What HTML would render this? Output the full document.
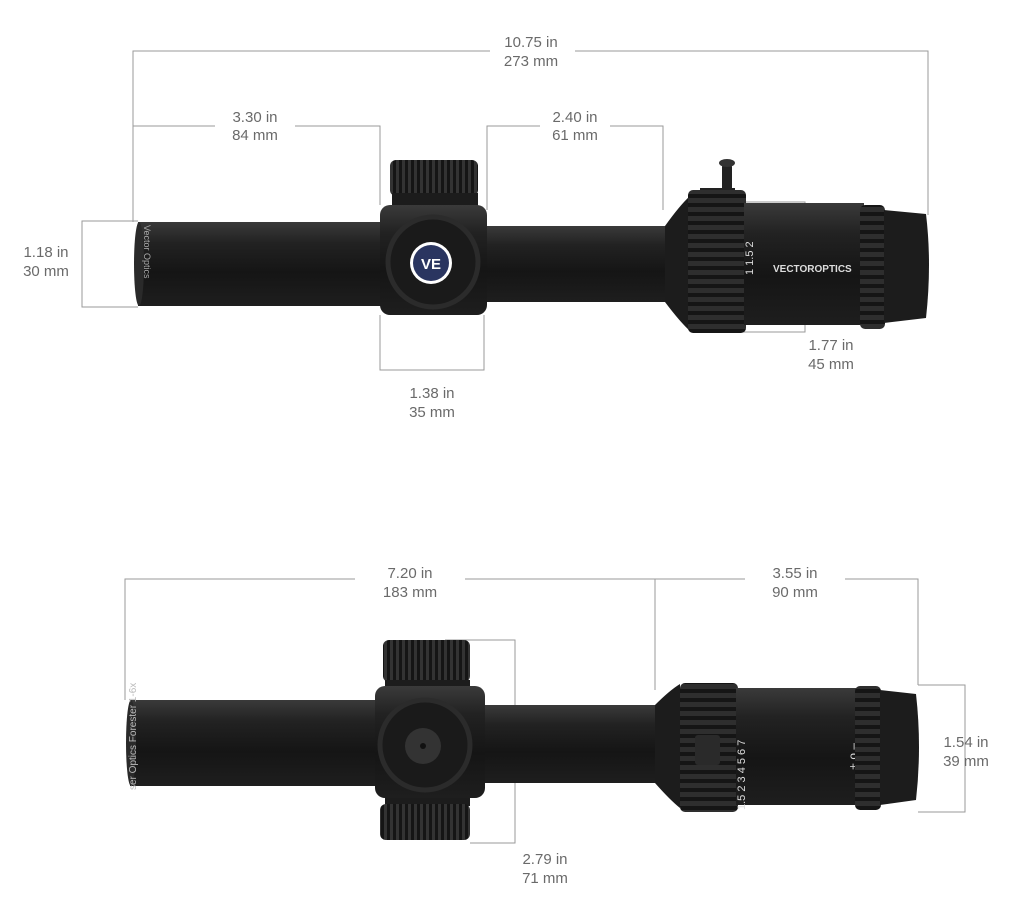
<!DOCTYPE html>
<html><head><meta charset="utf-8"><style>
html,body{margin:0;padding:0;background:#fff;}
svg{display:block;}
text{font-family:"Liberation Sans",sans-serif;font-size:15px;fill:#6a6a6a;}
</style></head><body>
<svg width="1024" height="917" viewBox="0 0 1024 917">
<defs>
<linearGradient id="tube" x1="0" y1="0" x2="0" y2="1">
<stop offset="0" stop-color="#3a3a3a"/><stop offset="0.25" stop-color="#222"/><stop offset="0.6" stop-color="#151515"/><stop offset="1" stop-color="#1e1e1e"/>
</linearGradient>
<pattern id="ribsH" width="10" height="9" patternUnits="userSpaceOnUse">
<rect width="10" height="9" fill="#151515"/><rect y="0" width="10" height="5" fill="#2e2e2e"/>
</pattern>
<pattern id="ribsV" width="6" height="10" patternUnits="userSpaceOnUse">
<rect width="6" height="10" fill="#151515"/><rect x="0" width="3" height="10" fill="#333"/>
</pattern>
</defs>
<g stroke="#9a9a9a" stroke-width="1" fill="none">
<polyline points="133,220 133,51 490,51"/><polyline points="575,51 928,51 928,215"/>
<polyline points="133,222 133,126 215,126"/><polyline points="295,126 380,126 380,205"/>
<polyline points="487,210 487,126 540,126"/><polyline points="610,126 663,126 663,210"/>
<polyline points="138,221 82,221 82,307 138,307"/>
<polyline points="380,315 380,370 484,370 484,315"/>
<polyline points="712,202 805,202 805,332 712,332"/>
<polyline points="125,700 125,579 355,579"/><polyline points="465,579 655,579 745,579"/>
<line x1="655" y1="579" x2="655" y2="690"/>
<polyline points="845,579 918,579 918,685"/>
<polyline points="918,685 965,685 965,812 918,812"/>
<polyline points="445,640 515,640 515,843 470,843"/>
</g>
<text x="531" y="47" text-anchor="middle">10.75 in</text><text x="531" y="66" text-anchor="middle">273 mm</text>
<text x="255" y="122" text-anchor="middle">3.30 in</text><text x="255" y="140" text-anchor="middle">84 mm</text>
<text x="575" y="122" text-anchor="middle">2.40 in</text><text x="575" y="140" text-anchor="middle">61 mm</text>
<text x="46" y="257" text-anchor="middle">1.18 in</text><text x="46" y="276" text-anchor="middle">30 mm</text>
<text x="432" y="398" text-anchor="middle">1.38 in</text><text x="432" y="417" text-anchor="middle">35 mm</text>
<text x="831" y="350" text-anchor="middle">1.77 in</text><text x="831" y="369" text-anchor="middle">45 mm</text>
<text x="410" y="578" text-anchor="middle">7.20 in</text><text x="410" y="597" text-anchor="middle">183 mm</text>
<text x="795" y="578" text-anchor="middle">3.55 in</text><text x="795" y="597" text-anchor="middle">90 mm</text>
<text x="966" y="747" text-anchor="middle">1.54 in</text><text x="966" y="766" text-anchor="middle">39 mm</text>
<text x="545" y="864" text-anchor="middle">2.79 in</text><text x="545" y="883" text-anchor="middle">71 mm</text>

<g>
<rect x="138" y="222" width="245" height="84" fill="url(#tube)"/>
<ellipse cx="139" cy="264" rx="5" ry="42" fill="#2a2a2a"/>
<text x="0" y="0" transform="translate(144,225) rotate(90)" style="font-size:9px;fill:#aaa">Vector Optics</text>
<rect x="484" y="226" width="185" height="76" fill="url(#tube)"/>
<rect x="390" y="160" width="88" height="36" rx="6" fill="url(#ribsV)"/>
<rect x="392" y="193" width="86" height="14" fill="#1c1c1c"/>
<rect x="380" y="205" width="107" height="110" rx="10" fill="url(#tube)"/>
<circle cx="433" cy="262" r="45" fill="#1a1a1a" stroke="#2b2b2b" stroke-width="5"/>
<circle cx="431" cy="263" r="21" fill="#fff"/>
<circle cx="431" cy="263" r="18" fill="#2a3560"/>
<text x="431" y="269" text-anchor="middle" style="font-size:15px;fill:#fff;font-weight:bold">VE</text>
<path d="M665 226 Q680 205 690 196 L690 331 Q680 322 665 302 Z" fill="#1c1c1c"/>
<path d="M700 195 L735 195 L735 188 L700 188 Z" fill="#222"/>
<rect x="722" y="163" width="10" height="30" rx="4" fill="#222"/>
<ellipse cx="727" cy="163" rx="8" ry="4" fill="#333"/>
<rect x="688" y="190" width="58" height="143" rx="5" fill="url(#ribsH)"/>
<rect x="744" y="203" width="120" height="122" fill="url(#tube)"/>
<text x="0" y="0" transform="translate(753,275) rotate(-90)" style="font-size:11px;fill:#ddd">1      1.5      2</text>
<text x="773" y="272" style="font-size:10px;fill:#ddd;font-weight:bold">VECTOROPTICS</text>
<rect x="860" y="205" width="25" height="124" rx="5" fill="url(#ribsH)"/>
<path d="M884 210 L926 214 Q932 264 926 318 L884 323 Z" fill="#1c1c1c"/>
</g>

<g>
<rect x="130" y="700" width="250" height="86" fill="url(#tube)"/>
<ellipse cx="131" cy="743" rx="5" ry="43" fill="#2a2a2a"/>
<text x="0" y="0" transform="translate(136,790) rotate(-90)" style="font-size:10px;fill:#bbb">ser Optics Forester 1-6x</text>
<rect x="483" y="705" width="176" height="78" fill="url(#tube)"/>
<rect x="383" y="640" width="87" height="42" rx="6" fill="url(#ribsV)"/>
<rect x="385" y="680" width="85" height="10" fill="#1c1c1c"/>
<rect x="385" y="796" width="85" height="10" fill="#1c1c1c"/>
<rect x="380" y="804" width="90" height="36" rx="6" fill="url(#ribsV)"/>
<rect x="375" y="686" width="110" height="112" rx="10" fill="url(#tube)"/>
<circle cx="425" cy="745" r="45" fill="#1a1a1a" stroke="#2b2b2b" stroke-width="5"/>
<circle cx="423" cy="746" r="18" fill="#333"/>
<circle cx="423" cy="746" r="3" fill="#111"/>
<path d="M655 705 Q670 690 680 684 L680 808 Q670 800 655 783 Z" fill="#1c1c1c"/>
<rect x="680" y="683" width="58" height="129" rx="5" fill="url(#ribsH)"/>
<rect x="695" y="735" width="25" height="30" rx="3" fill="#2a2a2a"/>
<rect x="736" y="688" width="122" height="117" fill="url(#tube)"/>
<text x="0" y="0" transform="translate(745,810) rotate(-90)" style="font-size:11px;fill:#ddd">1.5  2   3    4    5   6  7</text>
<text x="0" y="0" transform="translate(857,770) rotate(-90)" style="font-size:12px;fill:#ddd">+ o –</text>
<rect x="855" y="686" width="26" height="124" rx="5" fill="url(#ribsH)"/>
<path d="M880 690 L916 694 Q922 747 916 800 L880 805 Z" fill="#1c1c1c"/>
</g>
</svg>
</body></html>
